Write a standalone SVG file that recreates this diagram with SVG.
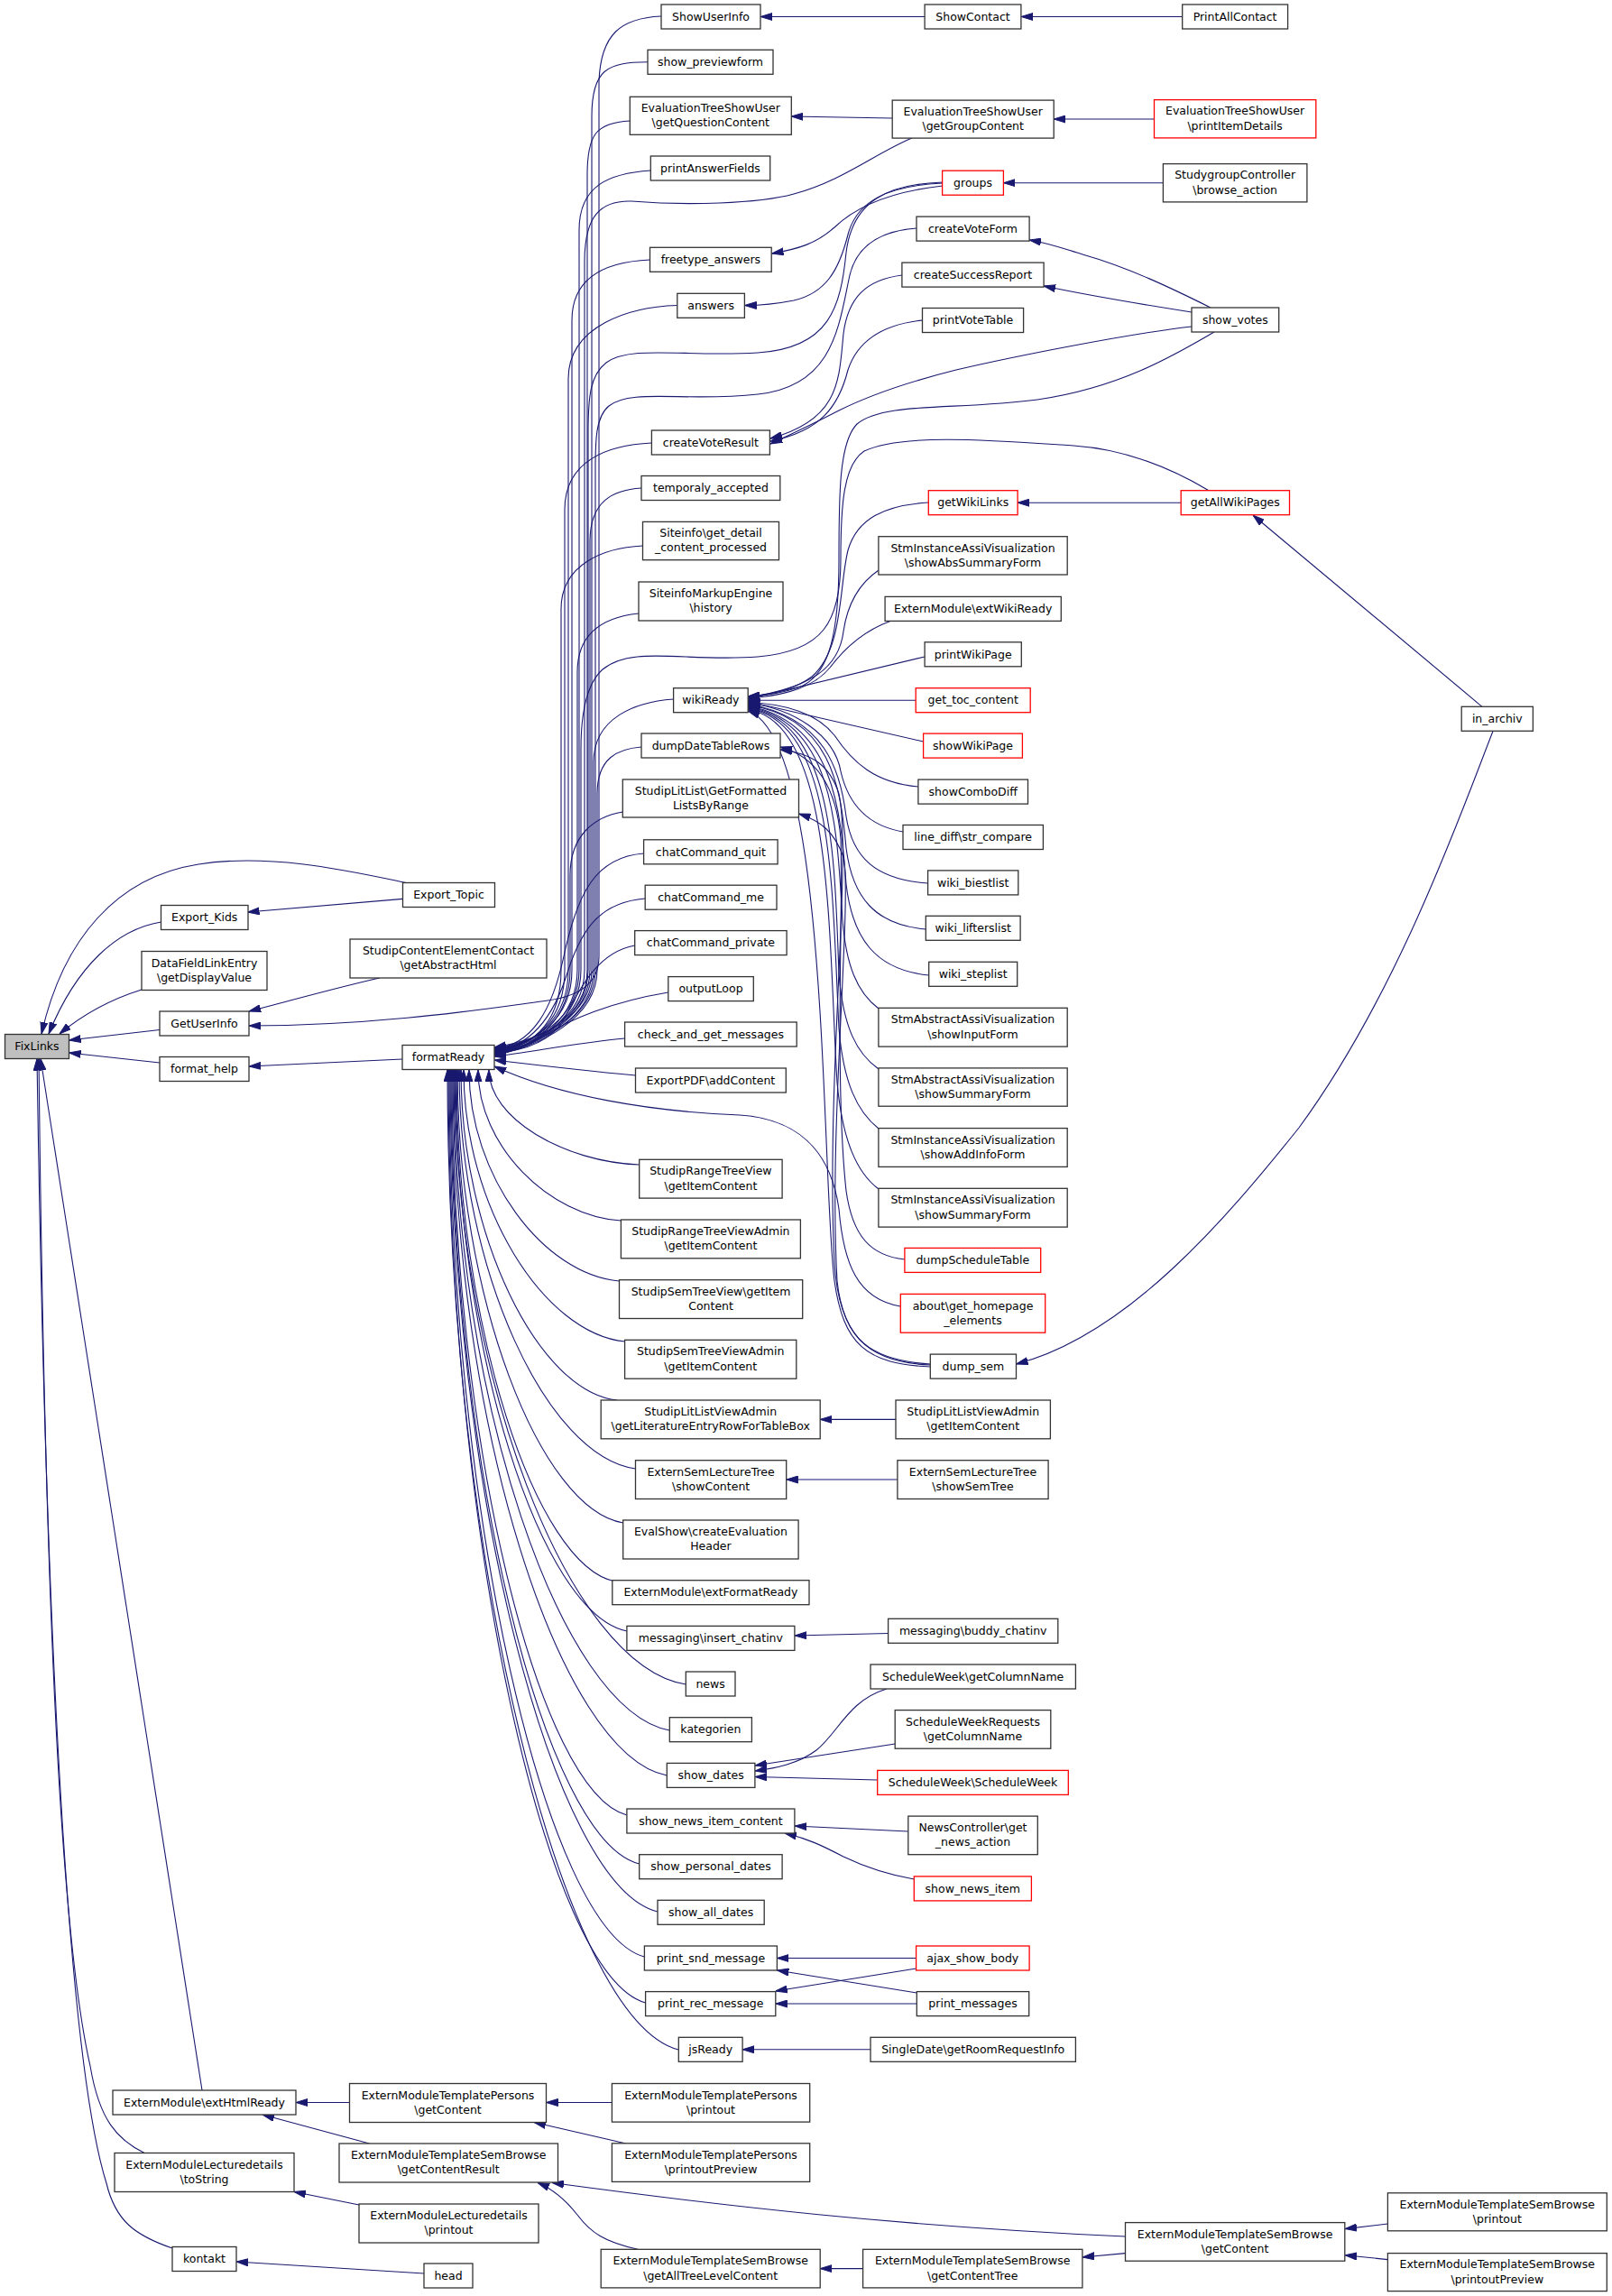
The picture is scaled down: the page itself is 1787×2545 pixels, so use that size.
<svg xmlns="http://www.w3.org/2000/svg" width="1787" height="2545" viewBox="0 0 1787 2545">
<defs>
<style>
.n rect{fill:#fff;stroke:#333;stroke-width:1.3}
.r rect{stroke:#ff0000}
.g rect{fill:#bfbfbf}
text{font-family:"DejaVu Sans",sans-serif;font-size:12.5px;text-anchor:middle;fill:#000}
#edges path{fill:none;stroke:#191970;stroke-width:1.1;marker-end:url(#a)}
</style>
<marker id="a" viewBox="0 0 13 9" refX="13" refY="4.5" markerWidth="13" markerHeight="9" markerUnits="userSpaceOnUse" orient="auto"><path d="M0,0.5 L13,4.5 L0,8.5 Z" fill="#191970" stroke="#191970" stroke-width="1"/></marker>
</defs>
<rect width="1787" height="2545" fill="#fff"/>
<g id="edges">
<path d="M453,979 C390,966 300,945 220,958 C130,972 70,1040 46,1146"/>
<path d="M178.5,1022 C130,1030 85,1070 54,1146"/>
<path d="M157,1097 C125,1107 95,1122 66,1146"/>
<path d="M177,1141.5 L76.5,1153"/>
<path d="M177,1178 L76.5,1167"/>
<path d="M224,2317 L45,1173.5"/>
<path d="M161,2387 C130,2372 110,2350 100,2290 C68,2150 50,1800 43,1173.5"/>
<path d="M191,2492 C150,2478 128,2462 118,2420 C80,2300 52,1900 41,1173.5"/>
<path d="M446.5,996.4 L274.5,1011"/>
<path d="M421,1084 C380,1093 330,1107 276,1121"/>
<path d="M733,18 C688,20 666,38 664,90 L664,1060 C664,1095 635,1106 600,1110 C540,1118 420,1137 276,1137"/>
<path d="M446,1174 L276,1182"/>
<path d="M387.5,2330.5 L328,2330.5"/>
<path d="M409.5,2376 L291,2344"/>
<path d="M398,2444 L326,2429.5"/>
<path d="M470,2520 L262,2507"/>
<path d="M678.4,2330.5 L605.5,2330.5"/>
<path d="M694,2376 L592,2352.5"/>
<path d="M707,2493.3 C670,2485 655,2475 640,2455 C625,2436 612,2426 596,2419.5"/>
<path d="M1247.5,2479 C1000,2468 800,2445 612,2419.5"/>
<path d="M956.6,2514.6 L909.2,2514.6"/>
<path d="M1247.5,2497.6 L1200,2502"/>
<path d="M1538.4,2465 L1491,2470.6"/>
<path d="M1538.4,2504.6 L1491,2499.7"/>
<path d="M1025,18.5 L843,18.5"/>
<path d="M1310.7,18.5 L1132,18.5"/>
<path d="M989,131 L877.3,129"/>
<path d="M1279.5,132 L1168.2,132"/>
<path d="M1289.4,202.7 L1112.4,202.7"/>
<path d="M1045,206 C990,212 950,228 925,252 C905,270 885,276 855.5,281"/>
<path d="M1045,203 C985,206 950,222 940,260 C930,300 915,325 880,333 C860,337 845,338.5 825.5,338.5"/>
<path d="M1045,202 C985,204 945,222 938,280 C932,340 920,386 840,391 C760,396 700,382 672,402 C654,416 652,440 652,480 L652,1075 C652,1130 595,1157 548,1165"/>
<path d="M1016,253 C975,256 950,272 942,305 C930,360 925,428 840,437 C760,446 700,430 675,450 C660,462 660,490 660,520 L660,1075 C660,1130 595,1158 548,1166"/>
<path d="M1000,305 C960,310 940,330 935,370 C930,420 932,465 854,486"/>
<path d="M1022.5,355 C975,360 950,380 940,410 C930,450 910,478 854,489"/>
<path d="M1321,362 C1250,370 1120,396 1060,410 C1000,425 960,440 930,455 C905,468 880,480 854,492"/>
<path d="M1342,341 C1300,320 1250,296 1200,282 C1180,276 1165,270 1141,266"/>
<path d="M1321,346 C1270,338 1210,328 1157,317"/>
<path d="M1346,368 C1300,395 1240,430 1150,443 C1060,455 980,445 950,470 C930,490 930,550 930,620 C930,700 920,745 890,760 C870,768 850,771 829.2,772"/>
<path d="M1340,543.7 C1300,520 1250,498 1190,494 C1100,488 1000,480 958,500 C935,515 932,560 932,620 C932,690 912,722 840,728 C760,734 700,715 668,742 C650,758 644,790 644,830 L644,1075 C644,1130 595,1160 548,1168"/>
<path d="M1309.2,557.2 L1128,557.2"/>
<path d="M1643,783.3 L1389,571"/>
<path d="M1655,810.5 C1620,900 1550,1100 1440,1250 C1360,1350 1250,1480 1126.5,1512"/>
<path d="M1029.3,557 C980,560 950,575 940,610 C930,650 935,720 900,750 C880,765 855,770 829.2,772"/>
<path d="M974,632 C955,645 940,665 935,700 C930,740 900,762 829.2,773"/>
<path d="M987,688.4 C955,700 935,720 920,740 C900,765 860,772 829.2,774"/>
<path d="M1025,728 L829.2,775"/>
<path d="M1015.2,776.2 L829.2,776.2"/>
<path d="M1023.6,822 L829.2,777.5"/>
<path d="M1018,872 C970,868 945,845 925,815 C905,790 870,780 829.2,778.5"/>
<path d="M1001,922 C960,915 940,890 932,855 C925,815 880,785 829.2,779.5"/>
<path d="M1028.6,979 C970,975 945,950 938,905 C932,855 915,795 829.2,780.5"/>
<path d="M1026.3,1030 C970,1025 945,995 938,940 C932,870 920,795 829.2,781.5"/>
<path d="M1029.7,1081 C970,1075 945,1040 938,980 C932,900 925,800 829.2,782.5"/>
<path d="M974,1118 C950,1100 938,1070 934,1020 C928,920 925,800 829.2,783.5"/>
<path d="M974,1185 C950,1168 935,1140 930,1080 C925,950 925,800 829.2,784.5"/>
<path d="M974,1251 C950,1232 935,1200 930,1140 C922,980 925,800 829.2,785.5"/>
<path d="M974,1318 C950,1300 934,1265 928,1200 C918,1040 925,800 829.2,786.5"/>
<path d="M1031.3,1515 C960,1512 935,1490 925,1420 C910,1300 920,820 829.2,788"/>
<path d="M1003,1396 C965,1392 945,1370 938,1320 C925,1200 935,1000 932,930 C928,880 910,840 865,828"/>
<path d="M1031.3,1513 C960,1510 930,1480 925,1400 C915,1200 945,950 930,880 C920,848 900,835 865,831"/>
<path d="M1031.3,1512 C965,1508 935,1485 928,1420 C918,1250 945,1000 935,950 C925,922 910,910 885.5,902"/>
<path d="M998.3,1448 C950,1440 935,1400 930,1340 C920,1270 880,1240 820,1236 C720,1232 620,1215 548,1182"/>
<path d="M713.6,946 C660,950 640,990 625,1060 C612,1120 590,1158 548,1163"/>
<path d="M715.2,996 C665,1000 645,1030 630,1075 C615,1125 590,1160 548,1165"/>
<path d="M703.7,1048 C665,1055 645,1090 625,1130 C610,1155 580,1165 548,1167"/>
<path d="M740.8,1100 C680,1110 630,1130 600,1150 C585,1160 565,1167 548,1169"/>
<path d="M692.6,1151 C640,1156 590,1166 548,1171"/>
<path d="M704.5,1192 C650,1187 590,1180 548,1175"/>
<path d="M718,68.8 C673,69 656,77 656,129 L656,1075 C656,1130 595,1153 548,1161"/>
<path d="M698.3,134 C660,136 651,150 651,194 L651,1075 C651,1130 595,1154 548,1162"/>
<path d="M721.3,189 C676,192 642,205 642,255 L642,1075 C642,1130 595,1155 548,1163"/>
<path d="M1011,153 C970,170 935,200 880,215 C840,226 760,228 700,223 C665,222 648,240 648,290 L648,1075 C648,1130 595,1156 548,1164"/>
<path d="M720.5,288 C675,290 634,305 634,355 L634,1075 C634,1130 595,1156 548,1164"/>
<path d="M750.8,338.5 C700,340 630,360 630,420 L630,1075 C630,1130 595,1157 548,1165"/>
<path d="M722.4,491 C675,493 626,510 626,565 L626,1075 C626,1130 595,1158 548,1166"/>
<path d="M711,541 C680,543 654,555 654,600 L654,1075 C654,1130 595,1159 548,1167"/>
<path d="M712.5,605 C670,607 622,625 622,675 L622,1075 C622,1130 595,1159 548,1167"/>
<path d="M708,680 C670,684 640,700 640,745 L640,1075 C640,1130 595,1160 548,1168"/>
<path d="M746.6,775 C705,778 658,795 658,845 L658,1075 C658,1130 595,1160 548,1168"/>
<path d="M711,828 C685,830 662,840 662,880 L662,1075 C662,1130 595,1161 548,1169"/>
<path d="M690.3,900 C660,905 632,925 632,970 L632,1075 C632,1130 595,1161 548,1169"/>
<path d="M708.7,1291 C625.5,1288 542,1239.5 542,1186"/>
<path d="M688.4,1353 C609,1348 530,1270.5 530,1186"/>
<path d="M686.5,1420 C603,1413 520,1304 520,1186"/>
<path d="M692.6,1487 C603,1478 514,1337.5 514,1186"/>
<path d="M684,1552 C597.5,1543 511,1371 511,1186"/>
<path d="M704.5,1628 C607,1615 509,1408 509,1186"/>
<path d="M690.7,1688 C599,1673 507,1438 507,1186"/>
<path d="M682,1753 C594,1736 506,1470 506,1186"/>
<path d="M695,1808 C600,1789 505,1498 505,1186"/>
<path d="M760.3,1867 C632,1847 504,1527 504,1186"/>
<path d="M742.3,1918 C622.5,1896 503,1553 503,1186"/>
<path d="M739.3,1968 C620.5,1945 502,1578 502,1186"/>
<path d="M695,2012 C598,1987 501,1600 501,1186"/>
<path d="M708.7,2066 C604,2040 500,1627 500,1186"/>
<path d="M729,2119 C614,2091 499,1653 499,1186"/>
<path d="M714.4,2169 C606,2140 498,1678 498,1186"/>
<path d="M715.6,2220 C606,2189 497,1704 497,1186"/>
<path d="M752.3,2272 C624,2239 496,1730 496,1186"/>
<path d="M993,1573.4 L909.2,1573.4"/>
<path d="M994.9,1640 L871.7,1640"/>
<path d="M984.6,1810.5 L881,1813"/>
<path d="M983,1872 C940,1885 930,1920 905,1940 C885,1955 860,1960 837,1963"/>
<path d="M992.2,1933 L837,1957"/>
<path d="M972.7,1973 L837,1969.5"/>
<path d="M1006.8,2030 L881,2024"/>
<path d="M1013.3,2083 C985,2078 960,2070 935,2058 C910,2045 895,2038 870,2032"/>
<path d="M1015.6,2170.5 L861.4,2170.5"/>
<path d="M1015.6,2182 L859.8,2207"/>
<path d="M1016.3,2209 L861.4,2184"/>
<path d="M1016.3,2221 L859.8,2221"/>
<path d="M965,2271.8 L823.1,2271.8"/>
</g>
<g id="FixLinks" class="n g"><rect x="5.5" y="1146.5" width="71" height="27"/><text x="41" y="1164.2">FixLinks</text></g>
<g id="Export_Kids" class="n"><rect x="178.5" y="1003.5" width="96.5" height="27"/><text x="226.7" y="1021.2">Export_Kids</text></g>
<g id="DataFieldLinkEntry_getDisplayValue" class="n"><rect x="157" y="1054.5" width="139" height="43"/><text x="226.5" y="1071.7">DataFieldLinkEntry</text><text x="226.5" y="1087.9">\getDisplayValue</text></g>
<g id="GetUserInfo" class="n"><rect x="177" y="1121" width="99" height="27"/><text x="226.5" y="1138.7">GetUserInfo</text></g>
<g id="format_help" class="n"><rect x="177" y="1171.5" width="99" height="27"/><text x="226.5" y="1189.2">format_help</text></g>
<g id="ExternModule_extHtmlReady" class="n"><rect x="125" y="2317" width="203" height="27"/><text x="226.5" y="2334.7">ExternModule\extHtmlReady</text></g>
<g id="ExternModuleLecturedetails_toString" class="n"><rect x="127" y="2386.5" width="199" height="43"/><text x="226.5" y="2403.7">ExternModuleLecturedetails</text><text x="226.5" y="2419.9">\toString</text></g>
<g id="kontakt" class="n"><rect x="191" y="2490.5" width="71" height="27"/><text x="226.5" y="2508.2">kontakt</text></g>
<g id="Export_Topic" class="n"><rect x="446.5" y="978.5" width="102" height="27"/><text x="497.5" y="996.2">Export_Topic</text></g>
<g id="StudipContentElementContact_getAbstractHtml" class="n"><rect x="388" y="1041" width="218" height="43"/><text x="497" y="1058.2">StudipContentElementContact</text><text x="497" y="1074.4">\getAbstractHtml</text></g>
<g id="formatReady" class="n"><rect x="446" y="1158.5" width="102" height="27"/><text x="497" y="1176.2">formatReady</text></g>
<g id="ExternModuleTemplatePersons_getContent" class="n"><rect x="387.5" y="2309.5" width="218" height="43"/><text x="496.5" y="2326.7">ExternModuleTemplatePersons</text><text x="496.5" y="2342.9">\getContent</text></g>
<g id="ExternModuleTemplateSemBrowse_getContentResult" class="n"><rect x="376" y="2376" width="242.5" height="43"/><text x="497.2" y="2393.2">ExternModuleTemplateSemBrowse</text><text x="497.2" y="2409.4">\getContentResult</text></g>
<g id="ExternModuleLecturedetails_printout" class="n"><rect x="398" y="2443" width="199" height="43"/><text x="497.5" y="2460.2">ExternModuleLecturedetails</text><text x="497.5" y="2476.4">\printout</text></g>
<g id="head" class="n"><rect x="470" y="2509" width="54" height="27"/><text x="497" y="2526.7">head</text></g>
<g id="ShowUserInfo" class="n"><rect x="733" y="5" width="110" height="27"/><text x="788" y="22.7">ShowUserInfo</text></g>
<g id="show_previewform" class="n"><rect x="718" y="55.3" width="139" height="27"/><text x="787.5" y="73">show_previewform</text></g>
<g id="EvaluationTreeShowUser_getQuestionContent" class="n"><rect x="698.3" y="107.3" width="179" height="42"/><text x="787.8" y="124">EvaluationTreeShowUser</text><text x="787.8" y="140.2">\getQuestionContent</text></g>
<g id="printAnswerFields" class="n"><rect x="721.3" y="173" width="132.4" height="27"/><text x="787.5" y="190.7">printAnswerFields</text></g>
<g id="freetype_answers" class="n"><rect x="720.5" y="274.3" width="134.7" height="27"/><text x="787.9" y="292">freetype_answers</text></g>
<g id="answers" class="n"><rect x="750.8" y="325.3" width="74.6" height="27"/><text x="788.1" y="343">answers</text></g>
<g id="createVoteResult" class="n"><rect x="722.4" y="477" width="131" height="27"/><text x="787.9" y="494.7">createVoteResult</text></g>
<g id="temporaly_accepted" class="n"><rect x="711" y="527.5" width="153.8" height="27"/><text x="787.9" y="545.2">temporaly_accepted</text></g>
<g id="Siteinfo_get_detail_content_processed" class="n"><rect x="712.5" y="578.4" width="151" height="42.3"/><text x="788" y="595.2">Siteinfo\get_detail</text><text x="788" y="611.4">_content_processed</text></g>
<g id="SiteinfoMarkupEngine_history" class="n"><rect x="708" y="645" width="160" height="43"/><text x="788" y="662.2">SiteinfoMarkupEngine</text><text x="788" y="678.4">\history</text></g>
<g id="wikiReady" class="n"><rect x="746.6" y="762.7" width="82.6" height="27"/><text x="787.9" y="780.4">wikiReady</text></g>
<g id="dumpDateTableRows" class="n"><rect x="711" y="813" width="154" height="27"/><text x="788" y="830.7">dumpDateTableRows</text></g>
<g id="StudipLitList_GetFormattedListsByRange" class="n"><rect x="690.3" y="864" width="195.2" height="42"/><text x="787.9" y="880.7">StudipLitList\GetFormatted</text><text x="787.9" y="896.9">ListsByRange</text></g>
<g id="chatCommand_quit" class="n"><rect x="713.6" y="930.8" width="148.5" height="27"/><text x="787.9" y="948.5">chatCommand_quit</text></g>
<g id="chatCommand_me" class="n"><rect x="715.2" y="981.2" width="145.8" height="27"/><text x="788.1" y="998.9">chatCommand_me</text></g>
<g id="chatCommand_private" class="n"><rect x="703.7" y="1031.6" width="168.4" height="27"/><text x="787.9" y="1049.3">chatCommand_private</text></g>
<g id="outputLoop" class="n"><rect x="740.8" y="1082.6" width="94.5" height="27"/><text x="788" y="1100.3">outputLoop</text></g>
<g id="check_and_get_messages" class="n"><rect x="692.6" y="1133" width="190.6" height="27"/><text x="787.9" y="1150.7">check_and_get_messages</text></g>
<g id="ExportPDF_addContent" class="n"><rect x="704.5" y="1184" width="166.8" height="27"/><text x="787.9" y="1201.7">ExportPDF\addContent</text></g>
<g id="StudipRangeTreeView_getItemContent" class="n"><rect x="708.7" y="1285.3" width="158.4" height="42.8"/><text x="787.9" y="1302.4">StudipRangeTreeView</text><text x="787.9" y="1318.6">\getItemContent</text></g>
<g id="StudipRangeTreeViewAdmin_getItemContent" class="n"><rect x="688.4" y="1352" width="199" height="42.8"/><text x="787.9" y="1369.1">StudipRangeTreeViewAdmin</text><text x="787.9" y="1385.3">\getItemContent</text></g>
<g id="StudipSemTreeView_getItemContent" class="n"><rect x="686.5" y="1418.7" width="203.2" height="42.8"/><text x="788.1" y="1435.8">StudipSemTreeView\getItem</text><text x="788.1" y="1452">Content</text></g>
<g id="StudipSemTreeViewAdmin_getItemContent" class="n"><rect x="692.6" y="1485.3" width="190.2" height="42.9"/><text x="787.7" y="1502.4">StudipSemTreeViewAdmin</text><text x="787.7" y="1518.6">\getItemContent</text></g>
<g id="StudipLitListViewAdmin_getLiteratureEntryRowForTableBox" class="n"><rect x="666.2" y="1552" width="243" height="42.8"/><text x="787.7" y="1569.1">StudipLitListViewAdmin</text><text x="787.7" y="1585.3">\getLiteratureEntryRowForTableBox</text></g>
<g id="ExternSemLectureTree_showContent" class="n"><rect x="704.5" y="1618.7" width="167.2" height="42.8"/><text x="788.1" y="1635.8">ExternSemLectureTree</text><text x="788.1" y="1652">\showContent</text></g>
<g id="EvalShow_createEvaluationHeader" class="n"><rect x="690.7" y="1685" width="194.4" height="43"/><text x="787.9" y="1702.2">EvalShow\createEvaluation</text><text x="787.9" y="1718.4">Header</text></g>
<g id="ExternModule_extFormatReady" class="n"><rect x="678.8" y="1751.7" width="218.2" height="27"/><text x="787.9" y="1769.4">ExternModule\extFormatReady</text></g>
<g id="messaging_insert_chatinv" class="n"><rect x="694.9" y="1802.4" width="186" height="27"/><text x="787.9" y="1820.1">messaging\insert_chatinv</text></g>
<g id="news" class="n"><rect x="760.3" y="1853" width="54.7" height="27"/><text x="787.6" y="1870.7">news</text></g>
<g id="kategorien" class="n"><rect x="742.3" y="1903.7" width="91.1" height="27"/><text x="787.9" y="1921.4">kategorien</text></g>
<g id="show_dates" class="n"><rect x="739.3" y="1954.4" width="97.6" height="27"/><text x="788.1" y="1972.1">show_dates</text></g>
<g id="show_news_item_content" class="n"><rect x="694.9" y="2005" width="186" height="27"/><text x="787.9" y="2022.7">show_news_item_content</text></g>
<g id="show_personal_dates" class="n"><rect x="708.7" y="2055.7" width="158.4" height="27"/><text x="787.9" y="2073.4">show_personal_dates</text></g>
<g id="show_all_dates" class="n"><rect x="729" y="2106.3" width="118.2" height="27"/><text x="788.1" y="2124">show_all_dates</text></g>
<g id="print_snd_message" class="n"><rect x="714.4" y="2157" width="147" height="27"/><text x="787.9" y="2174.7">print_snd_message</text></g>
<g id="print_rec_message" class="n"><rect x="715.6" y="2207.6" width="144.2" height="27"/><text x="787.7" y="2225.3">print_rec_message</text></g>
<g id="jsReady" class="n"><rect x="752.3" y="2258.3" width="70.8" height="27"/><text x="787.7" y="2276">jsReady</text></g>
<g id="ExternModuleTemplatePersons_printout" class="n"><rect x="678.4" y="2309.5" width="219.3" height="42.6"/><text x="788" y="2326.5">ExternModuleTemplatePersons</text><text x="788" y="2342.7">\printout</text></g>
<g id="ExternModuleTemplatePersons_printoutPreview" class="n"><rect x="678.4" y="2375.8" width="219.3" height="42.6"/><text x="788" y="2392.8">ExternModuleTemplatePersons</text><text x="788" y="2409">\printoutPreview</text></g>
<g id="ExternModuleTemplateSemBrowse_getAllTreeLevelContent" class="n"><rect x="666.2" y="2493.3" width="243" height="42.6"/><text x="787.7" y="2510.3">ExternModuleTemplateSemBrowse</text><text x="787.7" y="2526.5">\getAllTreeLevelContent</text></g>
<g id="ShowContact" class="n"><rect x="1025.1" y="5" width="106.8" height="27"/><text x="1078.5" y="22.7">ShowContact</text></g>
<g id="EvaluationTreeShowUser_getGroupContent" class="n"><rect x="989.2" y="111.1" width="179" height="42"/><text x="1078.7" y="127.8">EvaluationTreeShowUser</text><text x="1078.7" y="144">\getGroupContent</text></g>
<g id="groups" class="n r"><rect x="1044.6" y="189.2" width="67.8" height="27"/><text x="1078.5" y="206.9">groups</text></g>
<g id="createVoteForm" class="n"><rect x="1016" y="240.1" width="125.1" height="27"/><text x="1078.5" y="257.8">createVoteForm</text></g>
<g id="createSuccessReport" class="n"><rect x="999.9" y="291.1" width="157.2" height="27"/><text x="1078.5" y="308.8">createSuccessReport</text></g>
<g id="printVoteTable" class="n"><rect x="1022.5" y="341.5" width="112.1" height="27"/><text x="1078.5" y="359.2">printVoteTable</text></g>
<g id="getWikiLinks" class="n r"><rect x="1029.3" y="543.7" width="98.8" height="27"/><text x="1078.7" y="561.4">getWikiLinks</text></g>
<g id="StmInstanceAssiVisualization_showAbsSummaryForm" class="n"><rect x="973.9" y="594.7" width="209.3" height="42.3"/><text x="1078.5" y="611.5">StmInstanceAssiVisualization</text><text x="1078.5" y="627.7">\showAbsSummaryForm</text></g>
<g id="ExternModule_extWikiReady" class="n"><rect x="981.1" y="661.4" width="195.2" height="27"/><text x="1078.7" y="679.1">ExternModule\extWikiReady</text></g>
<g id="printWikiPage" class="n"><rect x="1025.1" y="711.8" width="107.2" height="27"/><text x="1078.7" y="729.5">printWikiPage</text></g>
<g id="get_toc_content" class="n r"><rect x="1015.2" y="762.7" width="127" height="27"/><text x="1078.7" y="780.4">get_toc_content</text></g>
<g id="showWikiPage" class="n r"><rect x="1023.6" y="813.1" width="109.8" height="27"/><text x="1078.5" y="830.8">showWikiPage</text></g>
<g id="showComboDiff" class="n"><rect x="1017.9" y="864.1" width="121.6" height="27"/><text x="1078.7" y="881.8">showComboDiff</text></g>
<g id="line_diff_str_compare" class="n"><rect x="1001" y="914.5" width="155.4" height="27"/><text x="1078.7" y="932.2">line_diff\str_compare</text></g>
<g id="wiki_biestlist" class="n"><rect x="1028.6" y="964.9" width="100.2" height="27"/><text x="1078.7" y="982.6">wiki_biestlist</text></g>
<g id="wiki_lifterslist" class="n"><rect x="1026.3" y="1015.3" width="104.8" height="27"/><text x="1078.7" y="1033">wiki_lifterslist</text></g>
<g id="wiki_steplist" class="n"><rect x="1029.7" y="1066.3" width="98" height="27"/><text x="1078.7" y="1084">wiki_steplist</text></g>
<g id="StmAbstractAssiVisualization_showInputForm" class="n"><rect x="973.9" y="1117.3" width="209.3" height="42.8"/><text x="1078.5" y="1134.4">StmAbstractAssiVisualization</text><text x="1078.5" y="1150.6">\showInputForm</text></g>
<g id="StmAbstractAssiVisualization_showSummaryForm" class="n"><rect x="973.9" y="1183.9" width="209.3" height="42.3"/><text x="1078.5" y="1200.7">StmAbstractAssiVisualization</text><text x="1078.5" y="1216.9">\showSummaryForm</text></g>
<g id="StmInstanceAssiVisualization_showAddInfoForm" class="n"><rect x="973.9" y="1250.6" width="209.3" height="42.8"/><text x="1078.5" y="1267.7">StmInstanceAssiVisualization</text><text x="1078.5" y="1283.9">\showAddInfoForm</text></g>
<g id="StmInstanceAssiVisualization_showSummaryForm" class="n"><rect x="973.9" y="1317.3" width="209.3" height="42.8"/><text x="1078.5" y="1334.4">StmInstanceAssiVisualization</text><text x="1078.5" y="1350.6">\showSummaryForm</text></g>
<g id="dumpScheduleTable" class="n r"><rect x="1002.9" y="1383.4" width="150.8" height="27"/><text x="1078.3" y="1401.1">dumpScheduleTable</text></g>
<g id="about_get_homepage_elements" class="n r"><rect x="998.3" y="1434.4" width="160.4" height="42.8"/><text x="1078.5" y="1451.5">about\get_homepage</text><text x="1078.5" y="1467.7">_elements</text></g>
<g id="dump_sem" class="n"><rect x="1031.3" y="1501.1" width="95.2" height="27"/><text x="1078.9" y="1518.8">dump_sem</text></g>
<g id="StudipLitListViewAdmin_getItemContent" class="n"><rect x="993" y="1552" width="171.4" height="42.8"/><text x="1078.7" y="1569.1">StudipLitListViewAdmin</text><text x="1078.7" y="1585.3">\getItemContent</text></g>
<g id="ExternSemLectureTree_showSemTree" class="n"><rect x="994.9" y="1618.7" width="167.2" height="42.8"/><text x="1078.5" y="1635.8">ExternSemLectureTree</text><text x="1078.5" y="1652">\showSemTree</text></g>
<g id="messaging_buddy_chatinv" class="n"><rect x="984.6" y="1794.3" width="188.2" height="27"/><text x="1078.7" y="1812">messaging\buddy_chatinv</text></g>
<g id="ScheduleWeek_getColumnName" class="n"><rect x="965" y="1845" width="227.4" height="27"/><text x="1078.7" y="1862.7">ScheduleWeek\getColumnName</text></g>
<g id="ScheduleWeekRequests_getColumnName" class="n"><rect x="992.2" y="1895.6" width="172.6" height="42.6"/><text x="1078.5" y="1912.6">ScheduleWeekRequests</text><text x="1078.5" y="1928.8">\getColumnName</text></g>
<g id="ScheduleWeek_ScheduleWeek" class="n r"><rect x="972.7" y="1962.4" width="211.6" height="27"/><text x="1078.5" y="1980.1">ScheduleWeek\ScheduleWeek</text></g>
<g id="NewsController_get_news_action" class="n"><rect x="1006.8" y="2013.1" width="143.5" height="42.6"/><text x="1078.5" y="2030.1">NewsController\get</text><text x="1078.5" y="2046.3">_news_action</text></g>
<g id="show_news_item" class="n r"><rect x="1013.3" y="2079.9" width="130.1" height="27"/><text x="1078.3" y="2097.6">show_news_item</text></g>
<g id="ajax_show_body" class="n r"><rect x="1015.6" y="2157" width="125.5" height="27"/><text x="1078.3" y="2174.7">ajax_show_body</text></g>
<g id="print_messages" class="n"><rect x="1016.3" y="2207.6" width="124.4" height="27"/><text x="1078.5" y="2225.3">print_messages</text></g>
<g id="SingleDate_getRoomRequestInfo" class="n"><rect x="965" y="2258.3" width="227.4" height="27"/><text x="1078.7" y="2276">SingleDate\getRoomRequestInfo</text></g>
<g id="ExternModuleTemplateSemBrowse_getContentTree" class="n"><rect x="956.6" y="2493.3" width="243.3" height="42.6"/><text x="1078.2" y="2510.3">ExternModuleTemplateSemBrowse</text><text x="1078.2" y="2526.5">\getContentTree</text></g>
<g id="PrintAllContact" class="n"><rect x="1310.7" y="5" width="116.9" height="27"/><text x="1369.1" y="22.7">PrintAllContact</text></g>
<g id="EvaluationTreeShowUser_printItemDetails" class="n r"><rect x="1279.5" y="110.6" width="179.3" height="42.3"/><text x="1369.1" y="127.4">EvaluationTreeShowUser</text><text x="1369.1" y="143.6">\printItemDetails</text></g>
<g id="StudygroupController_browse_action" class="n"><rect x="1289.4" y="181.6" width="159.5" height="42.3"/><text x="1369.1" y="198.4">StudygroupController</text><text x="1369.1" y="214.6">\browse_action</text></g>
<g id="show_votes" class="n"><rect x="1321" y="341" width="96.7" height="27"/><text x="1369.3" y="358.7">show_votes</text></g>
<g id="getAllWikiPages" class="n r"><rect x="1309.2" y="543.7" width="120.3" height="27"/><text x="1369.3" y="561.4">getAllWikiPages</text></g>
<g id="ExternModuleTemplateSemBrowse_getContent" class="n"><rect x="1247.5" y="2463.6" width="243.3" height="42.6"/><text x="1369.1" y="2480.6">ExternModuleTemplateSemBrowse</text><text x="1369.1" y="2496.8">\getContent</text></g>
<g id="in_archiv" class="n"><rect x="1620.2" y="783.3" width="79.2" height="27"/><text x="1659.8" y="801">in_archiv</text></g>
<g id="ExternModuleTemplateSemBrowse_printout" class="n"><rect x="1538.4" y="2430.8" width="242.9" height="42"/><text x="1659.8" y="2447.5">ExternModuleTemplateSemBrowse</text><text x="1659.8" y="2463.7">\printout</text></g>
<g id="ExternModuleTemplateSemBrowse_printoutPreview" class="n"><rect x="1538.4" y="2497.6" width="242.9" height="42"/><text x="1659.8" y="2514.3">ExternModuleTemplateSemBrowse</text><text x="1659.8" y="2530.5">\printoutPreview</text></g>
</svg>
